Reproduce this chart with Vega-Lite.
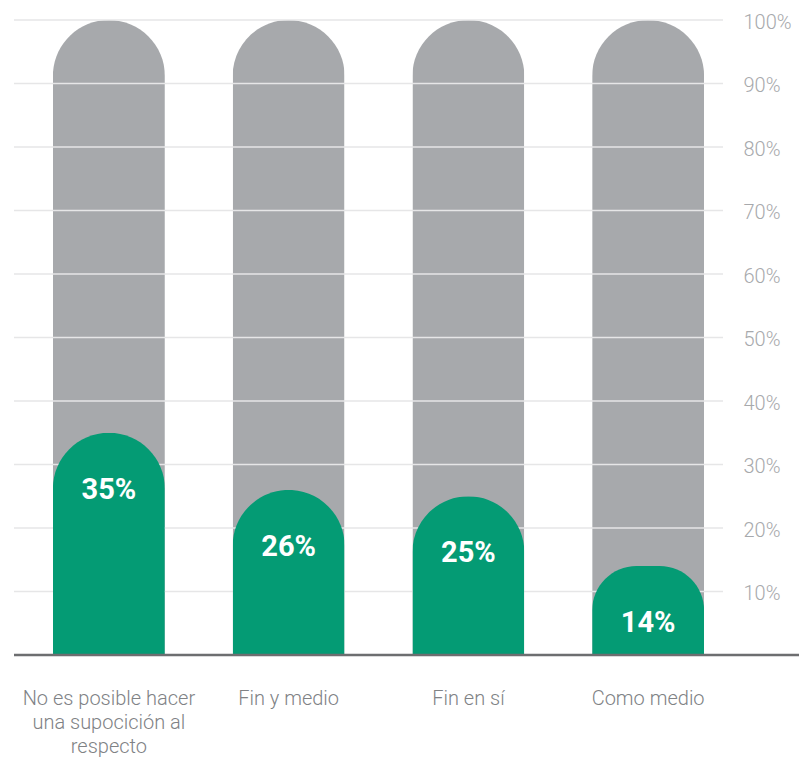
{
  "$schema": "https://vega.github.io/schema/vega-lite/v6.json",
  "width": 709,
  "height": 635,
  "autosize": "none",
  "padding": {"left": 14, "top": 20, "right": 82, "bottom": 104},
  "background": "white",
  "config": {"view": {"stroke": null}, "font": "Roboto"},
  "datasets": {
    "bars": [
      {"cat": "No es posible hacer una supocición al respecto", "value": 0.35, "total": 1, "label": "35%"},
      {"cat": "Fin y medio", "value": 0.26, "total": 1, "label": "26%"},
      {"cat": "Fin en sí", "value": 0.25, "total": 1, "label": "25%"},
      {"cat": "Como medio", "value": 0.14, "total": 1, "label": "14%"}
    ],
    "grid": [
      {"v": 0.1}, {"v": 0.2}, {"v": 0.3}, {"v": 0.4}, {"v": 0.5},
      {"v": 0.6}, {"v": 0.7}, {"v": 0.8}, {"v": 0.9}, {"v": 1.0}
    ],
    "base": [{"a": 0, "b": 1, "y": 0}]
  },
  "resolve": {"scale": {"x": "independent"}},
  "layer": [
    {
      "data": {"name": "bars"},
      "mark": {"type": "bar", "color": "#a7a9ac", "cornerRadiusTopLeft": 56, "cornerRadiusTopRight": 56},
      "encoding": {
        "x": {
          "field": "cat", "type": "nominal", "sort": null,
          "scale": {"range": [5, 724], "paddingInner": 0.377, "paddingOuter": 0.1885},
          "axis": {
            "title": null, "orient": "bottom", "domain": false, "ticks": false, "labelAngle": 0,
            "labelPadding": 43, "labelFontSize": 20, "labelFontWeight": 300, "labelColor": "#808285",
            "labelLineHeight": 24, "labelLimit": 300, "labelBaseline": "middle",
            "labelExpr": "datum.label == 'No es posible hacer una supocición al respecto' ? ['No es posible hacer', 'una supocición al', 'respecto'] : datum.label"
          }
        },
        "y": {
          "field": "total", "type": "quantitative",
          "scale": {"domain": [0, 1], "nice": false},
          "axis": {
            "title": null, "orient": "right", "grid": false, "domain": false, "ticks": false,
            "values": [0.1, 0.2, 0.3, 0.4, 0.5, 0.6, 0.7, 0.8, 0.9, 1.0],
            "format": ".0%", "labelPadding": 20, "labelFontSize": 20, "labelFontWeight": 300,
            "labelColor": "#a7a9ac", "labelAlign": "left", "labelBaseline": "middle", "labelOffset": 2
          }
        }
      }
    },
    {
      "data": {"name": "grid"},
      "mark": {"type": "rule", "color": "#e6e6e7", "strokeWidth": 1.5},
      "encoding": {
        "y": {"field": "v", "type": "quantitative"}
      }
    },
    {
      "data": {"name": "bars"},
      "mark": {"type": "bar", "color": "#049b74", "cornerRadiusTopLeft": 56, "cornerRadiusTopRight": 56},
      "encoding": {
        "x": {
          "field": "cat", "type": "nominal", "sort": null,
          "scale": {"range": [5, 724], "paddingInner": 0.377, "paddingOuter": 0.1885},
          "axis": null
        },
        "y": {"field": "value", "type": "quantitative"}
      }
    },
    {
      "data": {"name": "bars"},
      "mark": {"type": "text", "color": "white", "fontSize": 29, "fontWeight": "bold", "baseline": "middle", "dy": 57},
      "encoding": {
        "x": {
          "field": "cat", "type": "nominal", "sort": null,
          "scale": {"range": [5, 724], "paddingInner": 0.377, "paddingOuter": 0.1885},
          "axis": null
        },
        "y": {"field": "value", "type": "quantitative"},
        "text": {"field": "label"}
      }
    },
    {
      "data": {"name": "base"},
      "mark": {"type": "rule", "color": "#6d6e70", "strokeWidth": 2.5},
      "encoding": {
        "x": {"field": "a", "type": "quantitative", "scale": {"domain": [0, 1], "range": [0, 785]}, "axis": null},
        "x2": {"field": "b"},
        "y": {"field": "y", "type": "quantitative"}
      }
    }
  ]
}
